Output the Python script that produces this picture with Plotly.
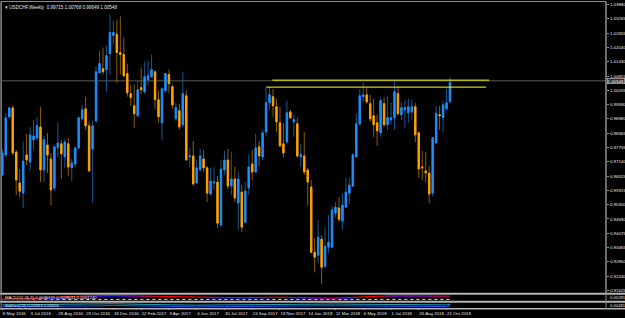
import pandas as pd
import plotly.graph_objects as go

# ---------------- data ----------------
title_text = "▾ USDCHF,Weekly  0.99715 1.00768 0.99649 1.00548"
first_week = "2016-05-08"

opens = [0.9657, 0.9743, 0.9906, 0.9945, 0.9756, 0.9623, 0.9580, 0.9743, 0.9713, 0.9808,
         0.9816, 0.9863, 0.9679, 0.9786, 0.9726, 0.9601, 0.9774, 0.9791, 0.9735, 0.9791,
         0.9688, 0.9705, 0.9774, 0.9898, 0.9941, 0.9868, 0.9769, 0.9890, 1.0096, 1.0113,
         1.0109, 1.0178, 1.0255, 1.0260, 1.0182, 1.0174, 1.0092, 1.0006, 0.9954, 0.9911,
         1.0032, 1.0014, 1.0066, 1.0079, 1.0100, 0.9980, 0.9881, 1.0019, 1.0088, 1.0036,
         0.9898, 0.9933, 0.9873, 0.9997, 0.9735, 0.9739, 0.9623, 0.9679, 0.9726, 0.9688,
         0.9576, 0.9623, 0.9627, 0.9443, 0.9679, 0.9722, 0.9610, 0.9640, 0.9537, 0.9584,
         0.9455, 0.9602, 0.9705, 0.9670, 0.9778, 0.9735, 0.9842, 0.9967, 0.9993, 0.9950,
         0.9881, 0.9791, 0.9799, 0.9928, 0.9885, 0.9877, 0.9735, 0.9739, 0.9679, 0.9606,
         0.9326, 0.9313, 0.9382, 0.9266, 0.9348, 0.9348, 0.9494, 0.9516, 0.9460, 0.9520,
         0.9580, 0.9610, 0.9735, 0.9877, 0.9993, 1.0001, 0.9963, 0.9911, 0.9881, 0.9838,
         0.9963, 0.9873, 0.9894, 0.9903, 1.0006, 0.9916, 0.9937, 0.9924, 0.9928, 0.9950,
         0.9838, 0.9692, 0.9675, 0.9666, 0.9580, 0.9795, 0.9916, 0.9903, 0.9941, 0.99715]

highs = [0.9769, 0.9924, 0.9949, 0.9954, 0.9765, 0.9683, 0.9799, 0.9833, 0.9863, 0.9894,
         0.9906, 0.9949, 0.9825, 0.9838, 0.9752, 0.9786, 0.9881, 0.9808, 0.9812, 0.9817,
         0.9726, 0.9778, 0.9907, 0.9958, 0.9993, 0.9885, 0.9890, 1.0122, 1.0191, 1.0204,
         1.0212, 1.0345, 1.0320, 1.0324, 1.0337, 1.0247, 1.0135, 1.0045, 1.0045, 1.0062,
         1.0118, 1.0143, 1.0148, 1.0174, 1.0105, 1.0019, 1.0032, 1.0096, 1.0109, 1.0045,
         0.9967, 0.9963, 1.0100, 1.0019, 0.9774, 0.9804, 0.9722, 0.9769, 0.9765, 0.9696,
         0.9688, 0.9692, 0.9653, 0.9722, 0.9761, 0.9769, 0.9756, 0.9692, 0.9670, 0.9614,
         0.9627, 0.9743, 0.9765, 0.9834, 0.9804, 0.9851, 1.0040, 1.0036, 1.0027, 0.9984,
         0.9950, 0.9881, 0.9976, 0.9937, 0.9916, 0.9903, 0.9791, 0.9842, 0.9688, 0.9636,
         0.9387, 0.9464, 0.9400, 0.9434, 0.9485, 0.9524, 0.9541, 0.9563, 0.9580, 0.9645,
         0.9645, 0.9752, 0.9920, 1.0023, 1.0053, 1.0032, 1.0001, 0.9984, 0.9916, 0.9989,
         0.9989, 0.9993, 0.9967, 1.0062, 1.0040, 0.9971, 0.9980, 0.9984, 0.9980, 0.9967,
         0.9842, 0.9761, 0.9756, 0.9696, 0.9821, 0.9954, 0.9954, 0.9976, 1.0027, 1.00768]

lows = [0.9653, 0.9734, 0.9902, 0.9743, 0.9571, 0.9562, 0.9515, 0.9700, 0.9678, 0.9765,
        0.9808, 0.9627, 0.9627, 0.9666, 0.9528, 0.9589, 0.9735, 0.9640, 0.9688, 0.9653,
        0.9632, 0.9692, 0.9765, 0.9894, 0.9851, 0.9670, 0.9541, 0.9881, 1.0096, 1.0088,
        1.0014, 1.0088, 1.0217, 1.0053, 1.0088, 1.0075, 0.9993, 0.9954, 0.9860, 0.9907,
        1.0006, 1.0006, 1.0040, 1.0075, 0.9941, 0.9881, 0.9808, 1.0010, 1.0010, 0.9941,
        0.9890, 0.9851, 0.9864, 0.9718, 0.9692, 0.9610, 0.9619, 0.9679, 0.9670, 0.9541,
        0.9571, 0.9593, 0.9430, 0.9434, 0.9658, 0.9597, 0.9571, 0.9541, 0.9421, 0.9412,
        0.9451, 0.9571, 0.9636, 0.9666, 0.9696, 0.9722, 0.9825, 0.9937, 0.9907, 0.9842,
        0.9778, 0.9731, 0.9791, 0.9898, 0.9821, 0.9731, 0.9692, 0.9658, 0.9528, 0.9322,
        0.9240, 0.9279, 0.9189, 0.9258, 0.9322, 0.9344, 0.9477, 0.9455, 0.9425, 0.9516,
        0.9533, 0.9606, 0.9731, 0.9868, 0.9971, 0.9963, 0.9885, 0.9821, 0.9782, 0.9821,
        0.9864, 0.9851, 0.9873, 0.9851, 0.9911, 0.9894, 0.9860, 0.9881, 0.9894, 0.9799,
        0.9645, 0.9636, 0.9627, 0.9537, 0.9567, 0.9791, 0.9851, 0.9842, 0.9933, 0.99649]

closes = [0.9752, 0.9902, 0.9945, 0.9752, 0.9636, 0.9588, 0.9717, 0.9722, 0.9829, 0.9825,
          0.9868, 0.9679, 0.9808, 0.9743, 0.9593, 0.9778, 0.9795, 0.9748, 0.9799, 0.9692,
          0.9709, 0.9774, 0.9903, 0.9937, 0.9868, 0.9675, 0.9868, 1.0100, 1.0135, 1.0100,
          1.0169, 1.0268, 1.0268, 1.0182, 1.0174, 1.0083, 1.0010, 0.9989, 0.9920, 1.0023,
          1.0023, 1.0079, 1.0083, 1.0109, 0.9980, 0.9907, 1.0027, 1.0092, 1.0049, 0.9958,
          0.9946, 0.9864, 1.0006, 0.9722, 0.9739, 0.9619, 0.9688, 0.9739, 0.9688, 0.9580,
          0.9632, 0.9627, 0.9451, 0.9683, 0.9722, 0.9610, 0.9640, 0.9559, 0.9640, 0.9434,
          0.9589, 0.9692, 0.9670, 0.9774, 0.9739, 0.9838, 0.9967, 1.0001, 0.9954, 0.9885,
          0.9782, 0.9752, 0.9924, 0.9903, 0.9894, 0.9739, 0.9744, 0.9670, 0.9627, 0.9326,
          0.9305, 0.9391, 0.9262, 0.9352, 0.9369, 0.9507, 0.9520, 0.9468, 0.9529, 0.9584,
          0.9614, 0.9744, 0.9877, 0.9997, 1.0001, 0.9971, 0.9898, 0.9873, 0.9847, 0.9976,
          0.9873, 0.9903, 0.9903, 1.0014, 0.9920, 0.9946, 0.9946, 0.9950, 0.9950, 0.9830,
          0.9683, 0.9688, 0.9666, 0.9576, 0.9817, 0.9920, 0.9911, 0.9958, 0.9967, 1.00548]

date_tick_dates = ["2016-05-08", "2016-07-03", "2016-08-28", "2016-10-23", "2016-12-18",
                   "2017-02-12", "2017-04-09", "2017-06-04", "2017-07-30", "2017-09-24",
                   "2017-11-19", "2018-01-14", "2018-03-11", "2018-05-06", "2018-07-01",
                   "2018-08-26", "2018-10-21"]
date_tick_labels = ["8 May 2016", "3 Jul 2016", "28 Aug 2016", "23 Oct 2016", "18 Dec 2016",
                    "12 Feb 2017", "9 Apr 2017", "4 Jun 2017", "30 Jul 2017", "24 Sep 2017",
                    "19 Nov 2017", "14 Jan 2018", "11 Mar 2018", "6 May 2018", "1 Jul 2018",
                    "26 Aug 2018", "21 Oct 2018"]

price_ticks = [1.03880, 1.03265, 1.02655, 1.02040, 1.01430, 1.00815, 1.00205, 0.99590,
               0.98980, 0.98365, 0.97755, 0.97140, 0.96525, 0.95915, 0.95300, 0.94690,
               0.94075, 0.93465, 0.92850, 0.92240, 0.91625]

bid_price = 1.0061
bid_text = "1.00548"

level_prices = [1.0064, 1.0034]
level_starts = ["2017-11-03 14:00", "2017-10-22 18:00"]
level_ends = ["2019-01-15 00:00", "2019-01-08 18:00"]

# indicator windows (sampled every 8 weeks + last bar)
ind_dates = date_tick_dates + ["2018-10-28"]
osc_red = [-0.4, -0.3, 0.2, 0.6, 0.7, 0.5, 0.3, 0.2, 0.1, 0.1, 0.2, 0.0, -0.1, 0.3, 0.6, 0.6, 0.5, 0.5]
osc_blue = [-0.6, -0.5, -0.2, 0.3, 0.5, 0.4, 0.2, 0.0, -0.1, -0.1, 0.1, -0.2, -0.3, 0.1, 0.4, 0.4, 0.3, 0.3]
osc_dots = [-0.5, -0.5, -0.5, -0.5, -0.5, -0.5, -0.5, -0.5, -0.5, -0.5, -0.5, -0.5, -0.5, -0.5, -0.5, -0.5, -0.5, -0.5]
osc_label = "MACD(12,26,9) 0.0036771 0.0038011 0.0001240"
osc_axis_text = "0.00281"
sd_teal = [0.6, 0.6, 0.7, 0.75, 0.8, 0.7, 0.6, 0.55, 0.6, 0.65, 0.6, 0.7, 0.75, 0.7, 0.65, 0.6, 0.6, 0.7]
sd_blue = [0.3, 0.3, 0.3, 0.4, 0.5, 0.4, 0.3, 0.25, 0.3, 0.35, 0.3, 0.4, 0.45, 0.4, 0.35, 0.3, 0.3, 0.4]
sd_label = "StdDev(20) 0.00553 0.00506"
sd_axis_text = "0.00481"

# ---------------- figure ----------------
weeks = pd.date_range(first_week, periods=len(opens), freq="7D")
body_hi = [max(o, c) for o, c in zip(opens, closes)]
body_lo = [min(o, c) for o, c in zip(opens, closes)]

BULL, BEAR = "#1e90ff", "#ffa500"
BULL_W, BEAR_W = "#1a5690", "#8c5c05"
TXT = "#e6e6e6"
FONT = "Liberation Sans"

fig = go.Figure()
fig.add_trace(go.Candlestick(
    x=weeks, open=opens, high=highs, low=lows, close=closes,
    increasing=dict(line=dict(color=BULL_W, width=1), fillcolor=BULL_W),
    decreasing=dict(line=dict(color=BEAR_W, width=1), fillcolor=BEAR_W),
    whiskerwidth=0, hoverinfo="skip", showlegend=False))
fig.add_trace(go.Candlestick(
    x=weeks, open=opens, high=body_hi, low=body_lo, close=closes,
    increasing=dict(line=dict(color=BULL, width=0.8), fillcolor=BULL),
    decreasing=dict(line=dict(color=BEAR, width=0.8), fillcolor=BEAR),
    whiskerwidth=0, showlegend=False))

for lp, ls, le in zip(level_prices, level_starts, level_ends):
    fig.add_trace(go.Scatter(x=[ls, le], y=[lp, lp], mode="lines",
                             line=dict(color="#ffff00", width=1),
                             hoverinfo="skip", showlegend=False))

fig.add_trace(go.Scatter(x=ind_dates, y=osc_dots, yaxis="y2", mode="lines",
                         line=dict(color="#ffff00", width=1, dash="dot"), showlegend=False))
fig.add_trace(go.Scatter(x=ind_dates, y=osc_blue, yaxis="y2", mode="lines",
                         line=dict(color="#0000ff", width=1), showlegend=False))
fig.add_trace(go.Scatter(x=ind_dates, y=osc_red, yaxis="y2", mode="lines",
                         line=dict(color="#ff0000", width=1), showlegend=False))
fig.add_trace(go.Scatter(x=ind_dates, y=sd_teal, yaxis="y3", mode="lines",
                         line=dict(color="#20a0b0", width=1), showlegend=False))
fig.add_trace(go.Scatter(x=ind_dates, y=sd_blue, yaxis="y3", mode="lines",
                         line=dict(color="#1e50ff", width=1), showlegend=False))

x_left = weeks[0] - pd.Timedelta(days=0.7)
x_right = weeks[0] + pd.Timedelta(weeks=173.95)

# plot area spans pixel rows 1..309
H = 308.0
def frac(py):
    return min(1.0, max(0.0, (309.0 - py) / H))

GRAY = "#8c8c8c"
SEP = "#b4b4b4"
shapes = [
    dict(type="line", xref="paper", yref="y", x0=0, x1=1, y0=bid_price, y1=bid_price,
         line=dict(color="#5a5a5a", width=1), layer="below"),
    dict(type="rect", xref="paper", yref="paper", x0=-0.0015, x1=1, y0=frac(293.5), y1=frac(1.5),
         line=dict(color=GRAY, width=1)),
    dict(type="line", xref="paper", yref="paper", x0=-0.005, x1=1.04, y0=frac(293.8), y1=frac(293.8),
         line=dict(color=SEP, width=2)),
    dict(type="line", xref="paper", yref="paper", x0=-0.005, x1=1.04, y0=frac(301.8), y1=frac(301.8),
         line=dict(color=SEP, width=2)),
    dict(type="line", xref="paper", yref="paper", x0=-0.005, x1=1.04, y0=frac(308.8), y1=frac(308.8),
         line=dict(color=SEP, width=1.5)),
    dict(type="line", xref="paper", yref="paper", x0=1, x1=1, y0=0, y1=frac(1.5),
         line=dict(color=GRAY, width=1)),
    dict(type="line", xref="paper", yref="paper", x0=-0.0015, x1=-0.0015, y0=0, y1=frac(1.5),
         line=dict(color=GRAY, width=1)),
]

annotations = [
    dict(text=title_text, xref="paper", yref="paper", x=0.001, y=frac(2.5), xanchor="left",
         yanchor="top", showarrow=False, font=dict(size=4.6, color=TXT, family=FONT)),
    dict(text=osc_label, xref="paper", yref="paper", x=0.001, y=frac(297.6), xanchor="left",
         yanchor="middle", showarrow=False, font=dict(size=4.2, color=TXT, family=FONT)),
    dict(text=sd_label, xref="paper", yref="paper", x=0.001, y=frac(305.6), xanchor="left",
         yanchor="middle", showarrow=False, font=dict(size=4.2, color=TXT, family=FONT)),
    dict(text=osc_axis_text, xref="paper", yref="paper", x=1.003, y=frac(297.8), xanchor="left",
         yanchor="middle", showarrow=False, font=dict(size=4.2, color=TXT, family=FONT)),
    dict(text=sd_axis_text, xref="paper", yref="paper", x=1.003, y=frac(305.6), xanchor="left",
         yanchor="middle", showarrow=False, font=dict(size=4.2, color=TXT, family=FONT)),
    dict(text=bid_text, xref="paper", yref="y", x=1.002, y=bid_price, xanchor="left",
         yanchor="middle", showarrow=False, bgcolor="#303030", bordercolor="#d0d0d0",
         borderwidth=0.6, borderpad=0, font=dict(size=4.4, color="#ffffff", family=FONT)),
]

fig.update_layout(
    template="none",
    width=625, height=318,
    margin=dict(l=2, r=19, t=1, b=9),
    paper_bgcolor="#000000", plot_bgcolor="#000000",
    boxgap=0.42,
    showlegend=False,
    font=dict(family=FONT, size=4.4, color=TXT),
    xaxis=dict(type="date", range=[x_left, x_right], anchor="y3", domain=[0, 1],
               rangeslider=dict(visible=False), showgrid=False, zeroline=False,
               tickvals=date_tick_dates, ticktext=date_tick_labels, tickangle=0,
               ticks="outside", ticklen=1, tickcolor=GRAY, tickwidth=1,
               ticklabelposition="outside right", showline=False,
               tickfont=dict(size=4.4, color=TXT, family=FONT), automargin=False),
    yaxis=dict(domain=[frac(293.5), frac(1.5)], range=[0.91496, 1.0401], side="right",
               anchor="x", showgrid=False, zeroline=False,
               tickvals=price_ticks, ticktext=[f"{v:.5f}" for v in price_ticks],
               ticks="outside", ticklen=2, tickcolor=GRAY, tickwidth=1,
               tickfont=dict(size=4.4, color=TXT, family=FONT), automargin=False),
    yaxis2=dict(domain=[frac(301.0), frac(294.6)], range=[-1, 1], anchor="x", side="right",
                showticklabels=False, showgrid=False, zeroline=False, ticks=""),
    yaxis3=dict(domain=[frac(308.3), frac(302.6)], range=[0, 1], anchor="x", side="right",
                showticklabels=False, showgrid=False, zeroline=False, ticks=""),
    shapes=shapes,
    annotations=annotations,
)

fig.write_html("out.html")
